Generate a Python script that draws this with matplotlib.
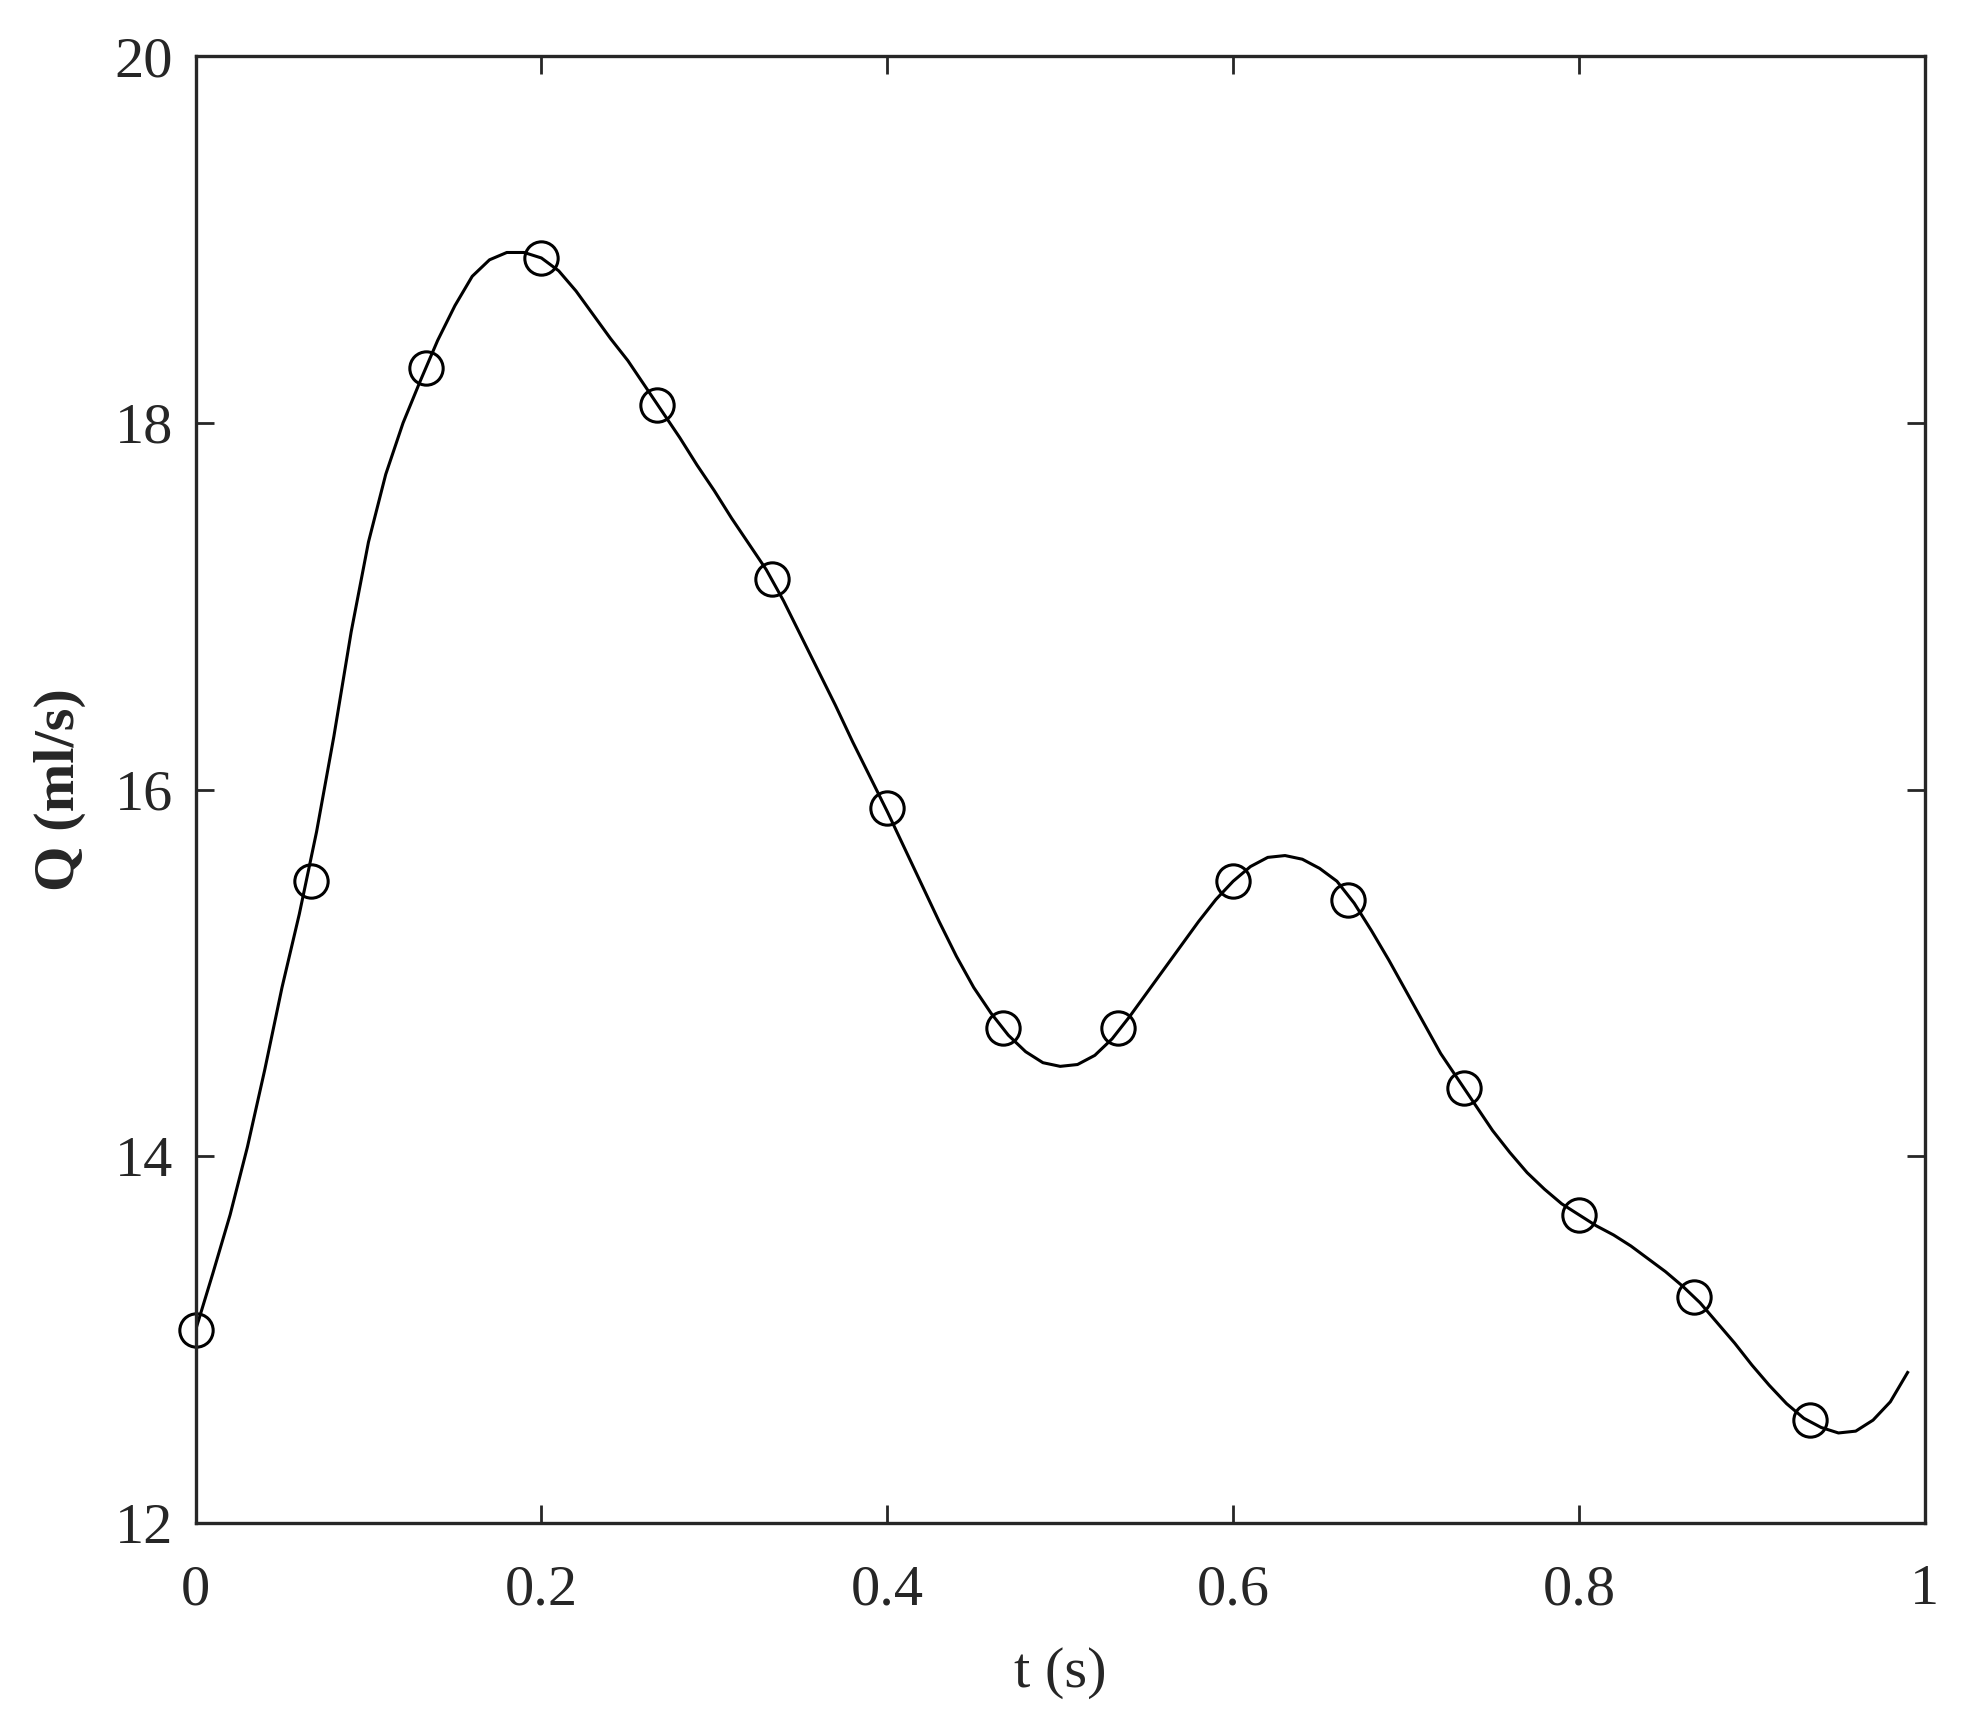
import matplotlib
matplotlib.use("Agg")
from matplotlib import pyplot as plt

plt.rcParams['font.family'] = ['Liberation Serif', 'TeX Gyre Termes', 'STIXGeneral', 'DejaVu Serif']

# measured samples (circles)
t_meas = [0, 1/15, 2/15, 3/15, 4/15, 5/15, 6/15, 7/15, 8/15, 9/15, 10/15, 11/15, 12/15, 13/15, 14/15]
q_meas = [13.05, 15.50, 18.30, 18.90, 18.10, 17.15, 15.90, 14.70, 14.70, 15.50, 15.40, 14.37, 13.68, 13.23, 12.56]

# fitted curve, every 0.01 s
t_fit = [i / 100 for i in range(100)]
q_fit = [13.05, 13.36, 13.68, 14.05, 14.47, 14.92, 15.32, 15.77, 16.29, 16.86,
         17.35, 17.72, 18.00, 18.23, 18.45, 18.64, 18.80, 18.89, 18.93, 18.93,
         18.90, 18.83, 18.72, 18.59, 18.46, 18.34, 18.20, 18.06, 17.92, 17.77,
         17.63, 17.48, 17.34, 17.20, 17.03, 16.84, 16.65, 16.46, 16.26, 16.07,
         15.88, 15.68, 15.48, 15.28, 15.09, 14.92, 14.78, 14.66, 14.57, 14.51,
         14.49, 14.50, 14.55, 14.64, 14.76, 14.89, 15.02, 15.15, 15.28, 15.40,
         15.50, 15.58, 15.63, 15.64, 15.62, 15.57, 15.50, 15.38, 15.23, 15.07,
         14.90, 14.73, 14.56, 14.42, 14.28, 14.14, 14.02, 13.91, 13.82, 13.74,
         13.68, 13.62, 13.57, 13.51, 13.44, 13.37, 13.29, 13.20, 13.09, 12.98,
         12.86, 12.75, 12.65, 12.57, 12.52, 12.49, 12.50, 12.56, 12.66, 12.82]

x_ticks = [0, 0.2, 0.4, 0.6, 0.8, 1]
x_ticklabels = ['0', '0.2', '0.4', '0.6', '0.8', '1']
y_ticks = [12, 14, 16, 18, 20]

fig = plt.figure(figsize=(19.65, 17.23), dpi=100)
ax = fig.add_axes([0.0995, 0.1162, 0.8801, 0.8511])

ax.plot(t_fit, q_fit, color='black', lw=2.2, solid_joinstyle='round')
ax.plot(t_meas, q_meas, 'o', mfc='none', mec='black', ms=24, mew=2.2, clip_on=False)

ax.set_xlim(0, 1)
ax.set_ylim(12, 20)
ax.set_xticks(x_ticks)
ax.set_xticklabels(x_ticklabels)
ax.set_yticks(y_ticks)

for s in ax.spines.values():
    s.set_linewidth(2.4)
    s.set_color('#262626')
ax.tick_params(direction='in', length=13, width=2.0, color='#262626',
               labelsize=42, labelcolor='#262626', top=True, right=True)
ax.tick_params(axis='x', pad=30)
ax.tick_params(axis='y', pad=16)

ax.set_xlabel('t (s)', fontsize=42, color='#262626', va='center')
ax.xaxis.set_label_coords(0.5, -0.1024)
ax.set_ylabel('Q (ml/s)', fontsize=42, fontweight='bold', color='#262626', va='center')
ax.yaxis.set_label_coords(-0.0783, 0.5)

fig.savefig('out.png', dpi=100)
